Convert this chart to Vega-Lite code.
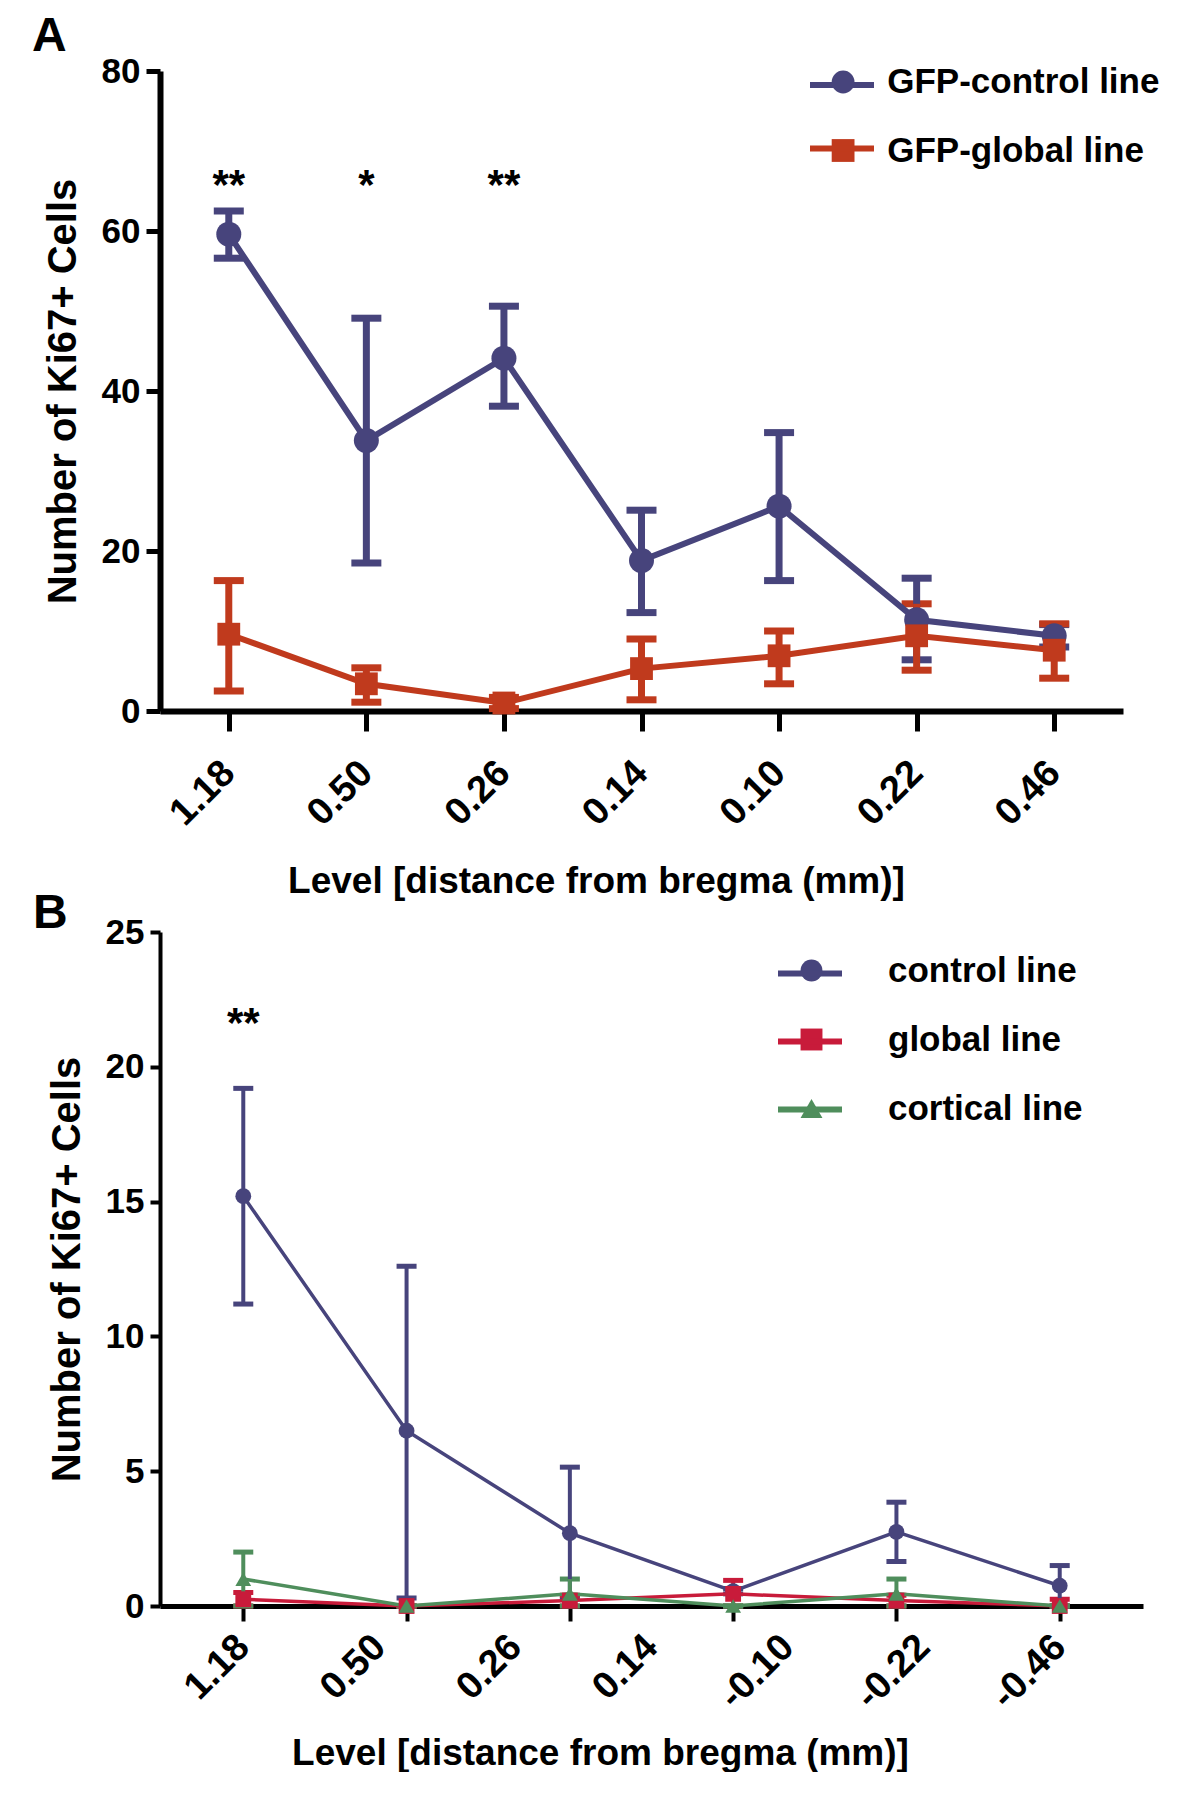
{
  "$schema": "https://vega.github.io/schema/vega-lite/v6.json",
  "background": "white",
  "padding": {"left": 32, "top": 13, "right": 0, "bottom": 0},
  "autosize": {"type": "pad"},
  "spacing": -10,
  "resolve": {
    "scale": {"color": "independent", "stroke": "independent", "shape": "independent"},
    "legend": {"color": "independent", "stroke": "independent", "shape": "independent"}
  },
  "config": {
    "view": {"stroke": null},
    "font": "Liberation Sans",
    "axis": {
      "grid": false,
      "labelFont": "Liberation Sans",
      "titleFont": "Liberation Sans",
      "labelFontWeight": "bold",
      "titleFontWeight": "bold",
      "labelColor": "black",
      "titleColor": "black",
      "domainColor": "black",
      "tickColor": "black"
    },
    "legend": {
      "labelFont": "Liberation Sans",
      "labelFontWeight": "bold",
      "labelColor": "black",
      "labelLimit": 600
    }
  },
  "vconcat": [
    {
      "width": 963,
      "height": 640,
      "title": {"text": "A", "anchor": "start", "frame": "group", "fontSize": 48, "fontWeight": "bold", "color": "black", "font": "Liberation Sans", "dx": -128, "offset": -11},
      "data": {
        "values": [
          {"level": "1.18", "series": "GFP-control line", "mean": 59.6, "lo": 56.6, "hi": 62.5},
          {"level": "0.50", "series": "GFP-control line", "mean": 33.8, "lo": 18.5, "hi": 49.1},
          {"level": "0.26", "series": "GFP-control line", "mean": 44.1, "lo": 38.1, "hi": 50.6},
          {"level": "0.14", "series": "GFP-control line", "mean": 18.8, "lo": 12.3, "hi": 25.1},
          {"level": "0.10", "series": "GFP-control line", "mean": 25.6, "lo": 16.3, "hi": 34.8},
          {"level": "0.22", "series": "GFP-control line", "mean": 11.4, "lo": 6.4, "hi": 16.6},
          {"level": "0.46", "series": "GFP-control line", "mean": 9.4, "lo": 8.0, "hi": 10.8},
          {"level": "1.18", "series": "GFP-global line", "mean": 9.6, "lo": 2.5, "hi": 16.3},
          {"level": "0.50", "series": "GFP-global line", "mean": 3.4, "lo": 1.1, "hi": 5.4},
          {"level": "0.26", "series": "GFP-global line", "mean": 1.0, "lo": 0.3, "hi": 1.7},
          {"level": "0.14", "series": "GFP-global line", "mean": 5.3, "lo": 1.4, "hi": 9.0},
          {"level": "0.10", "series": "GFP-global line", "mean": 6.9, "lo": 3.4, "hi": 10.0},
          {"level": "0.22", "series": "GFP-global line", "mean": 9.4, "lo": 5.1, "hi": 13.4},
          {"level": "0.46", "series": "GFP-global line", "mean": 7.6, "lo": 4.1, "hi": 10.9}
        ]
      },
      "layer": [
        {
          "mark": {"type": "errorbar", "ticks": {"size": 30, "thickness": 7, "opacity": 1}, "rule": {"strokeWidth": 7, "opacity": 1}},
          "encoding": {
            "x": {
              "field": "level", "type": "ordinal",
              "sort": ["1.18", "0.50", "0.26", "0.14", "0.10", "0.22", "0.46"],
              "scale": {"type": "point", "padding": 0.5},
              "axis": {
                "title": "Level [distance from bregma (mm)]",
                "labelAngle": -45, "labelAlign": "right", "labelBaseline": "middle",
                "labelFontSize": 38, "labelPadding": 36,
                "tickSize": 20, "tickWidth": 5, "domainWidth": 6,
                "titleFontSize": 37, "titlePadding": 31, "titleX": 436
              }
            },
            "y": {
              "field": "lo", "type": "quantitative",
              "scale": {"domain": [0, 80], "nice": false},
              "axis": {
                "title": "Number of Ki67+ Cells",
                "values": [0, 20, 40, 60, 80],
                "labelFontSize": 35, "labelPadding": 6,
                "tickSize": 14, "tickWidth": 5, "domainWidth": 6,
                "titleFontSize": 40, "titlePadding": 18
              }
            },
            "y2": {"field": "hi"},
            "color": {
              "field": "series", "type": "nominal",
              "scale": {"domain": ["GFP-control line", "GFP-global line"], "range": ["#47447c", "#c03a1d"]}
            }
          }
        },
        {
          "mark": {"type": "line", "strokeWidth": 6},
          "encoding": {
            "x": {"field": "level", "type": "ordinal", "sort": ["1.18", "0.50", "0.26", "0.14", "0.10", "0.22", "0.46"]},
            "y": {"field": "mean", "type": "quantitative"},
            "stroke": {
              "field": "series", "type": "nominal",
              "sort": ["GFP-control line", "GFP-global line"],
              "scale": {"range": ["#47447c", "#c03a1d"]},
              "legend": {
                "title": null, "orient": "none", "legendX": 647, "legendY": -21,
                "symbolSize": 4096, "symbolStrokeWidth": 6,
                "labelFontSize": 35, "labelOpacity": 0, "labelOffset": 13, "rowPadding": 10.5, "padding": 0
              }
            }
          }
        },
        {
          "mark": {"type": "point", "filled": true, "opacity": 1},
          "encoding": {
            "x": {"field": "level", "type": "ordinal", "sort": ["1.18", "0.50", "0.26", "0.14", "0.10", "0.22", "0.46"]},
            "y": {"field": "mean", "type": "quantitative"},
            "shape": {
              "field": "series", "type": "nominal",
              "scale": {"domain": ["GFP-control line", "GFP-global line"], "range": ["circle", "square"]},
              "legend": null
            },
            "size": {"condition": {"test": "datum.series === 'GFP-global line'", "value": 520}, "value": 625},
            "color": {
              "field": "series", "type": "nominal",
              "legend": {
                "title": null, "orient": "none", "legendX": 665.6, "legendY": -6.5,
                "symbolSize": 520, "symbolStrokeWidth": 0,
                "labelFontSize": 35, "labelOffset": 26.6, "rowPadding": 32.5, "padding": 0
              }
            }
          }
        },
        {
          "data": {"values": [
            {"level": "1.18", "sig": "**", "h": 64},
            {"level": "0.50", "sig": "*", "h": 64},
            {"level": "0.26", "sig": "**", "h": 64}
          ]},
          "mark": {"type": "text", "fontSize": 42, "fontWeight": "bold", "color": "black", "baseline": "alphabetic", "align": "center"},
          "encoding": {
            "x": {"field": "level", "type": "ordinal", "sort": ["1.18", "0.50", "0.26", "0.14", "0.10", "0.22", "0.46"]},
            "y": {"field": "h", "type": "quantitative"},
            "text": {"field": "sig", "type": "nominal"}
          }
        }
      ]
    },
    {
      "width": 983,
      "height": 674,
      "title": {"text": "B", "anchor": "start", "frame": "group", "fontSize": 48, "fontWeight": "bold", "color": "black", "font": "Liberation Sans", "dx": -127, "offset": -23},
      "data": {
        "values": [
          {"idx": 0, "series": "control line", "mean": 15.2, "lo": 11.2, "hi": 19.2},
          {"idx": 1, "series": "control line", "mean": 6.5, "lo": 0.3, "hi": 12.6},
          {"idx": 2, "series": "control line", "mean": 2.7, "lo": 0.3, "hi": 5.15},
          {"idx": 3, "series": "control line", "mean": 0.55, "lo": 0.45, "hi": 0.65},
          {"idx": 4, "series": "control line", "mean": 2.75, "lo": 1.65, "hi": 3.85},
          {"idx": 5, "series": "control line", "mean": 0.75, "lo": 0.0, "hi": 1.5},
          {"idx": 0, "series": "global line", "mean": 0.25, "lo": 0.0, "hi": 0.5},
          {"idx": 1, "series": "global line", "mean": 0.0, "lo": 0.0, "hi": 0.0},
          {"idx": 2, "series": "global line", "mean": 0.2, "lo": 0.0, "hi": 0.4},
          {"idx": 3, "series": "global line", "mean": 0.45, "lo": 0.0, "hi": 0.95},
          {"idx": 4, "series": "global line", "mean": 0.2, "lo": 0.0, "hi": 0.4},
          {"idx": 5, "series": "global line", "mean": 0.0, "lo": 0.0, "hi": 0.25},
          {"idx": 0, "series": "cortical line", "mean": 1.0, "lo": 0.0, "hi": 2.0},
          {"idx": 1, "series": "cortical line", "mean": 0.0, "lo": 0.0, "hi": 0.0},
          {"idx": 2, "series": "cortical line", "mean": 0.45, "lo": 0.0, "hi": 1.0},
          {"idx": 3, "series": "cortical line", "mean": 0.0, "lo": 0.0, "hi": 0.0},
          {"idx": 4, "series": "cortical line", "mean": 0.45, "lo": 0.0, "hi": 1.0},
          {"idx": 5, "series": "cortical line", "mean": 0.0, "lo": 0.0, "hi": 0.0}
        ]
      },
      "encoding": {
        "x": {
          "field": "idx", "type": "quantitative",
          "scale": {"domain": [-0.51, 5.51], "nice": false, "zero": false},
          "axis": {
            "title": "Level [distance from bregma (mm)]",
            "values": [0, 0.8333, 1, 1.6667, 2, 2.5, 3, 3.3333, 4, 4.1667, 5],
            "labelExpr": "datum.value == 0 ? '1.18' : abs(datum.value - 0.8333) < 0.01 ? '0.50' : abs(datum.value - 1.6667) < 0.01 ? '0.26' : datum.value == 2.5 ? '0.14' : abs(datum.value - 3.3333) < 0.01 ? '-0.10' : abs(datum.value - 4.1667) < 0.01 ? '-0.22' : datum.value == 5 ? '-0.46' : ''",
            "tickOpacity": {"condition": {"test": "datum.value % 1 !== 0", "value": 0}, "value": 1},
            "labelFlush": false, "labelOverlap": false, "labelBound": false,
            "labelAngle": -45, "labelAlign": "right", "labelBaseline": "middle",
            "labelFontSize": 38, "labelPadding": 20,
            "tickSize": 15, "tickWidth": 4, "domainWidth": 5,
            "titleFontSize": 37, "titlePadding": 20, "titleX": 440
          }
        },
        "y": {
          "field": "mean", "type": "quantitative",
          "scale": {"domain": [0, 25], "nice": false},
          "axis": {
            "title": "Number of Ki67+ Cells",
            "values": [0, 5, 10, 15, 20, 25],
            "labelFontSize": 35, "labelPadding": 6,
            "tickSize": 10, "tickWidth": 4, "domainWidth": 4,
            "titleFontSize": 40, "titlePadding": 18
          }
        }
      },
      "layer": [
        {
          "mark": {"type": "errorbar", "ticks": {"size": 20, "thickness": 5, "opacity": 1}, "rule": {"strokeWidth": 4, "opacity": 1}},
          "encoding": {
            "y": {"field": "lo", "type": "quantitative"},
            "y2": {"field": "hi"},
            "color": {
              "field": "series", "type": "nominal",
              "scale": {"domain": ["control line", "global line", "cortical line"], "range": ["#47447c", "#c81b3a", "#4f8e5c"]}
            }
          }
        },
        {
          "mark": {"type": "line", "strokeWidth": 3.5},
          "encoding": {
            "stroke": {
              "field": "series", "type": "nominal",
              "sort": ["control line", "global line", "cortical line"],
              "scale": {"range": ["#47447c", "#c81b3a", "#4f8e5c"]},
              "legend": {
                "title": null, "orient": "none", "legendX": 615, "legendY": 6.5,
                "symbolSize": 4096, "symbolStrokeWidth": 6,
                "labelFontSize": 35, "labelOpacity": 0, "labelOffset": 46, "rowPadding": 15, "padding": 0
              }
            }
          }
        },
        {
          "mark": {"type": "point", "filled": true, "opacity": 1},
          "encoding": {
            "shape": {
              "field": "series", "type": "nominal",
              "scale": {"domain": ["control line", "global line", "cortical line"], "range": ["circle", "square", "triangle-up"]},
              "legend": null
            },
            "size": {"value": 250},
            "color": {
              "field": "series", "type": "nominal",
              "legend": {
                "title": null, "orient": "none", "legendX": 634, "legendY": 21,
                "symbolSize": 480, "symbolStrokeWidth": 0,
                "labelFontSize": 35, "labelOffset": 59, "rowPadding": 33, "padding": 0
              }
            }
          }
        },
        {
          "data": {"values": [
            {"idx": 0, "sig": "**", "h": 21.1}
          ]},
          "mark": {"type": "text", "fontSize": 42, "fontWeight": "bold", "color": "black", "baseline": "alphabetic", "align": "center"},
          "encoding": {
            "y": {"field": "h", "type": "quantitative"},
            "text": {"field": "sig", "type": "nominal"}
          }
        }
      ]
    }
  ]
}
